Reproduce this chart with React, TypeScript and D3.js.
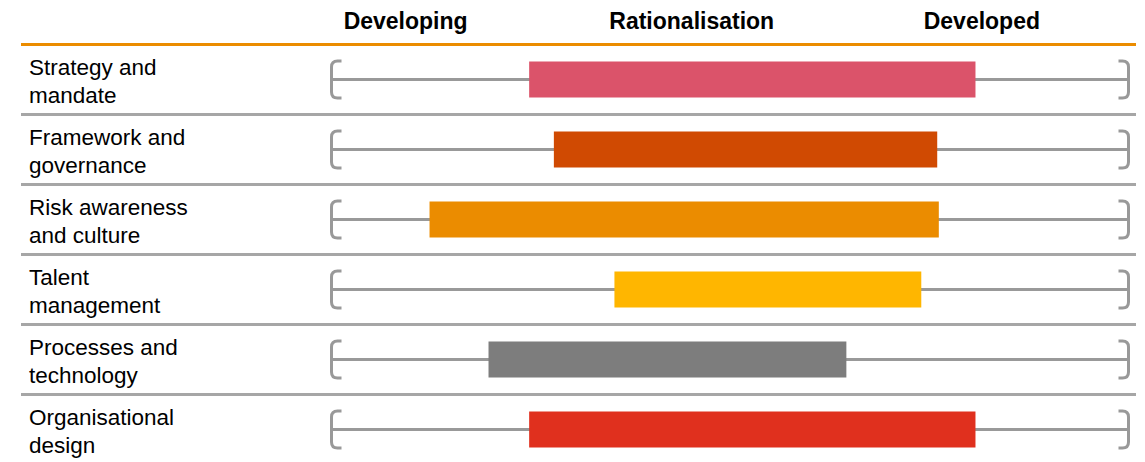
import React from 'react';
import * as d3 from 'd3';

// row labels (two lines each)
const categories = [
  ['Strategy and', 'mandate'],
  ['Framework and', 'governance'],
  ['Risk awareness', 'and culture'],
  ['Talent', 'management'],
  ['Processes and', 'technology'],
  ['Organisational', 'design'],
];

// range of maturity for each capability (0 = developing end, 100 = developed end)
const rangeStart = [24.8, 27.9, 12.3, 35.5, 19.7, 24.8];
const rangeEnd = [80.8, 76.0, 76.2, 74.0, 64.6, 80.8];

const barColors = ['#DB536A', '#D04A02', '#EB8C00', '#FFB600', '#7D7D7D', '#E0301E'];

// stage headings along the top
const stageLabels = ['Developing', 'Rationalisation', 'Developed'];
const stagePositions = [9.3, 45.2, 81.6];

const width = 1145;
const height = 462;
const font = '"Liberation Sans", Arial, sans-serif';

const App = () => {
  const rowKeys = categories.map((c) => c.join(' '));

  const x = d3.scaleLinear().domain([0, 100]).range([331.5, 1128.5]);
  const y = d3.scaleBand<string>().domain(rowKeys).range([44.5, 44.5 + 70 * rowKeys.length]);
  const bw = y.bandwidth();
  const barH = 36;
  const br = 18.5; // half height of the end brackets
  const tip = 10;
  const r = 6; // bracket corner radius

  const bracket = (x0: number, dir: number, c: number) => {
    const p = d3.path();
    p.moveTo(x0 + dir * tip, c - br);
    p.lineTo(x0 + dir * r, c - br);
    p.quadraticCurveTo(x0, c - br, x0, c - br + r);
    p.lineTo(x0, c + br - r);
    p.quadraticCurveTo(x0, c + br, x0 + dir * r, c + br);
    p.lineTo(x0 + dir * tip, c + br);
    return p.toString();
  };

  return (
    <svg
      width={width}
      height={height}
      style={{ position: 'absolute', left: 0, top: 0, background: '#fff' }}
      fontFamily={font}
    >
      {/* stage headings */}
      {stageLabels.map((s, i) => (
        <text
          key={s}
          x={x(stagePositions[i])}
          y={29}
          textAnchor="middle"
          fontSize={23}
          fontWeight="bold"
          fill="#000"
        >
          {s}
        </text>
      ))}

      {/* row separators */}
      {rowKeys.slice(1).map((k) => (
        <line key={k} x1={21} x2={1136} y1={y(k)} y2={y(k)} stroke="#A6A6A6" strokeWidth={3} />
      ))}
      <line x1={21} x2={1136} y1={y(rowKeys[0])} y2={y(rowKeys[0])} stroke="#EB8C00" strokeWidth={3} />

      {rowKeys.map((k, i) => {
        const top = y(k) as number;
        const c = top + bw / 2;
        return (
          <g key={k}>
            <text x={29} y={top + 30} fontSize={22.5} fill="#000">
              <tspan x={29}>{categories[i][0]}</tspan>
              <tspan x={29} dy={28}>{categories[i][1]}</tspan>
            </text>
            <line x1={x(0)} x2={x(100)} y1={c} y2={c} stroke="#999" strokeWidth={3} />
            <path d={bracket(x(0), 1, c)} fill="none" stroke="#999" strokeWidth={3} />
            <path d={bracket(x(100), -1, c)} fill="none" stroke="#999" strokeWidth={3} />
            <rect
              x={x(rangeStart[i])}
              y={c - barH / 2}
              width={x(rangeEnd[i]) - x(rangeStart[i])}
              height={barH}
              fill={barColors[i]}
            />
          </g>
        );
      })}
    </svg>
  );
};

export default App;
